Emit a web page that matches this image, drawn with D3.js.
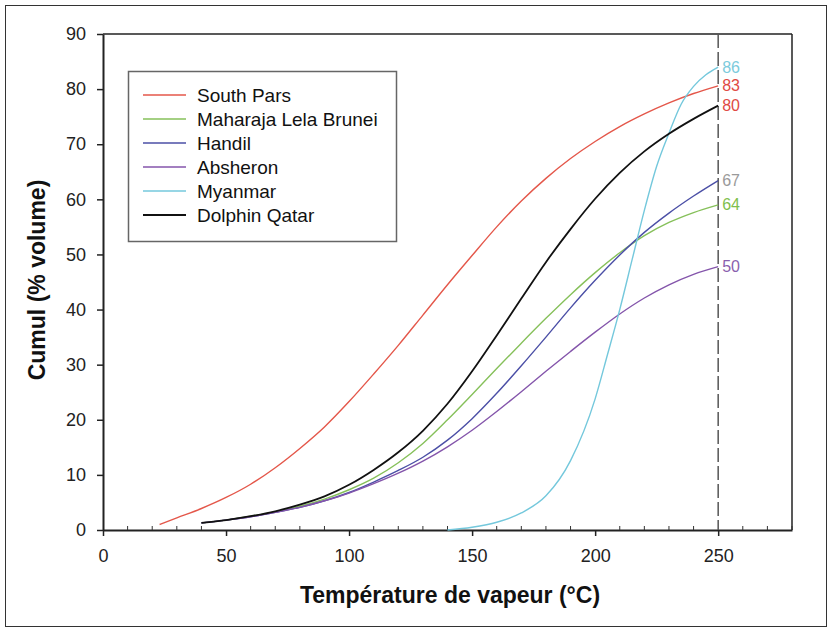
<!DOCTYPE html>
<html>
<head>
<meta charset="utf-8">
<script src="https://cdn.jsdelivr.net/npm/d3@7"></script>
<style>
  html, body { margin: 0; padding: 0; background: #fff; }
  svg { display: block; font-family: "Liberation Sans", Arial, sans-serif; }
</style>
</head>
<body>
<svg id="chart" width="832" height="632"></svg>
<script>
// ---- Data ----
const seriesNames = ["South Pars", "Maharaja Lela Brunei", "Handil", "Absheron", "Myanmar", "Dolphin Qatar"];
const seriesColors = ["#e4574a", "#86c05a", "#4b4fa6", "#8455ab", "#74c8dc", "#111111"];

const southParsT = [23, 30, 40, 50, 60, 70, 80, 90, 100, 110, 120, 130, 140, 150, 160, 170, 180, 190, 200, 210, 220, 230, 240, 250];
const southParsV = [1, 2.2, 3.9, 5.9, 8.3, 11.3, 14.8, 18.7, 23.3, 28.3, 33.5, 39, 44.5, 49.8, 55, 59.7, 63.8, 67.4, 70.5, 73.2, 75.5, 77.5, 79.2, 80.6];

const maharajaT = [40, 50, 60, 70, 80, 90, 100, 110, 120, 130, 140, 150, 160, 170, 180, 190, 200, 210, 220, 230, 240, 250];
const maharajaV = [1.3, 1.8, 2.5, 3.3, 4.3, 5.6, 7.3, 9.4, 12.2, 15.7, 20, 24.6, 29.3, 33.9, 38.4, 42.7, 46.7, 50.3, 53.4, 55.8, 57.6, 59];

const handilT = [40, 50, 60, 70, 80, 90, 100, 110, 120, 130, 140, 150, 160, 170, 180, 190, 200, 210, 220, 230, 240, 250];
const handilV = [1.3, 1.8, 2.4, 3.2, 4.1, 5.3, 6.8, 8.7, 10.8, 13.2, 16.3, 20.2, 24.8, 29.8, 35, 40.3, 45.3, 49.9, 54, 57.5, 60.6, 63.4];

const absheronT = [40, 50, 60, 70, 80, 90, 100, 110, 120, 130, 140, 150, 160, 170, 180, 190, 200, 210, 220, 230, 240, 250];
const absheronV = [1.3, 1.8, 2.4, 3.2, 4.1, 5.3, 6.7, 8.4, 10.3, 12.5, 15.1, 18.1, 21.5, 25.1, 28.8, 32.4, 35.9, 39.2, 42.1, 44.5, 46.4, 47.8];

const myanmarT = [140, 150, 160, 170, 180, 190, 200, 205, 210, 215, 220, 225, 230, 235, 240, 245, 250];
const myanmarV = [0, 0.5, 1.4, 3.1, 6.2, 12.6, 23.8, 31.8, 40, 49, 58, 66, 72, 77.3, 80.5, 82.6, 84];

const dolphinT = [40, 50, 60, 70, 80, 90, 100, 110, 120, 130, 140, 150, 160, 170, 180, 190, 200, 210, 220, 230, 240, 250];
const dolphinV = [1.3, 1.8, 2.5, 3.4, 4.6, 6.1, 8.2, 10.9, 14.1, 18.0, 22.9, 28.8, 35.3, 42.0, 48.6, 54.6, 60.1, 64.8, 68.7, 71.9, 74.6, 77.0];

// labels printed at the right end of the curves (series index each one belongs to)
const endLabels = ["86", "83", "80", "67", "64", "50"];
const endLabelSeries = [4, 0, 5, 2, 1, 3];
const endLabelColors = ["#7ccbdc", "#e04a44", "#e04a44", "#9a9a9a", "#7fbf4d", "#8a5fae"];

const xTicks = [0, 50, 100, 150, 200, 250];
const xMinorTicks = d3.range(0, 281, 10).filter(d => d % 50 !== 0);
const yTicks = [0, 10, 20, 30, 40, 50, 60, 70, 80, 90];
const xTitle = "Température de vapeur (°C)";
const yTitle = "Cumul (% volume)";
const markerT = 250;

// ---- Build ----
const seriesT = [southParsT, maharajaT, handilT, absheronT, myanmarT, dolphinT];
const seriesV = [southParsV, maharajaV, handilV, absheronV, myanmarV, dolphinV];
const series = seriesNames.map((name, i) => ({
  name, color: seriesColors[i],
  points: seriesT[i].map((t, j) => ({ t, v: seriesV[i][j] }))
}));

const svg = d3.select("#chart");
svg.append("rect").attr("width", 832).attr("height", 632).attr("fill", "#fff");
svg.append("rect").attr("x", 5.5).attr("y", 5.5).attr("width", 821).attr("height", 621)
  .attr("fill", "none").attr("stroke", "#333").attr("stroke-width", 1);

const x = d3.scaleLinear().domain([0, 280]).range([103, 792]);
const y = d3.scaleLinear().domain([0, 90]).range([530, 34]);

// frame (top / right)
svg.append("line").attr("x1", x(0)).attr("x2", x(280)).attr("y1", y(90)).attr("y2", y(90))
  .attr("stroke", "#222").attr("stroke-width", 1.5);
svg.append("line").attr("x1", x(280)).attr("x2", x(280)).attr("y1", y(90)).attr("y2", y(0))
  .attr("stroke", "#222").attr("stroke-width", 1.5);

// axes
const gx = svg.append("g").attr("transform", `translate(0,${y(0)})`)
  .call(d3.axisBottom(x).tickValues(xTicks).tickSize(6).tickPadding(13).tickSizeOuter(0));
const gy = svg.append("g").attr("transform", `translate(${x(0)},0)`)
  .call(d3.axisLeft(y).tickValues(yTicks).tickSize(6).tickPadding(11).tickSizeOuter(0));
[gx, gy].forEach(g => {
  g.select(".domain").attr("stroke", "#222").attr("stroke-width", 2);
  g.selectAll(".tick line").attr("stroke", "#222").attr("stroke-width", 1.5);
  g.selectAll(".tick text").attr("fill", "#222").attr("font-size", 18)
    .attr("font-family", "'Liberation Sans', Arial, sans-serif");
});
// minor ticks (inward)
svg.append("g").selectAll("line").data(xMinorTicks).join("line")
  .attr("x1", d => x(d)).attr("x2", d => x(d))
  .attr("y1", y(0)).attr("y2", y(0) - 4)
  .attr("stroke", "#333").attr("stroke-width", 1);

// dashed marker line at 250
svg.append("line").attr("x1", x(markerT)).attr("x2", x(markerT))
  .attr("y1", y(90)).attr("y2", y(0))
  .attr("stroke", "#555").attr("stroke-width", 1.5).attr("stroke-dasharray", "14,4");

// curves
const line = d3.line().x(d => x(d.t)).y(d => y(d.v)).curve(d3.curveMonotoneX);
svg.append("g").selectAll("path").data(series).join("path")
  .attr("d", d => line(d.points))
  .attr("fill", "none")
  .attr("stroke", d => d.color)
  .attr("stroke-width", d => d.name === "Dolphin Qatar" ? 1.8 : 1.4);

// end labels, placed at each curve's final value
svg.append("g").selectAll("text").data(endLabels).join("text")
  .attr("x", x(markerT) + 4)
  .attr("y", (d, i) => {
    const pts = series[endLabelSeries[i]].points;
    return y(pts[pts.length - 1].v);
  })
  .attr("dy", "0.35em")
  .attr("font-size", 16)
  .attr("fill", (d, i) => endLabelColors[i])
  .text(d => d);

// legend
const lg = svg.append("g");
lg.append("rect").attr("x", 128.5).attr("y", 71.5).attr("width", 268).attr("height", 170)
  .attr("fill", "#fff").attr("stroke", "#666").attr("stroke-width", 1.5);
const items = lg.selectAll("g.item").data(series).join("g").attr("class", "item")
  .attr("transform", (d, i) => `translate(0,${95 + i * 24})`);
items.append("line").attr("x1", 143).attr("x2", 186).attr("y1", 0).attr("y2", 0)
  .attr("stroke", d => d.color).attr("stroke-width", d => d.name === "Dolphin Qatar" ? 2 : 1.5);
items.append("text").attr("x", 197).attr("y", 0).attr("dy", "0.35em")
  .attr("font-size", 19).attr("fill", "#111").text(d => d.name);

// titles
svg.append("text").attr("x", 450).attr("y", 603).attr("text-anchor", "middle")
  .attr("font-size", 23).attr("font-weight", "bold").attr("fill", "#111").text(xTitle);
svg.append("text").attr("transform", "translate(37,280) rotate(-90)")
  .attr("text-anchor", "middle").attr("dy", "0.35em")
  .attr("font-size", 23).attr("font-weight", "bold").attr("fill", "#111").text(yTitle);
</script>
</body>
</html>
